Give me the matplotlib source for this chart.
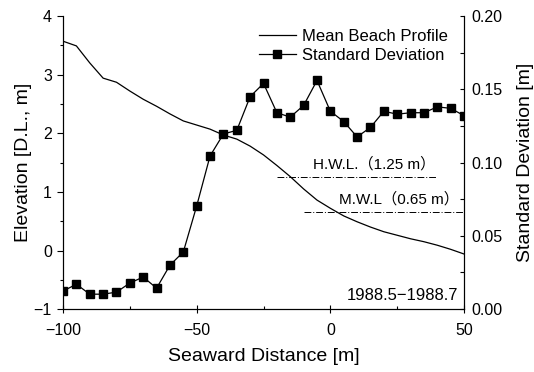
import matplotlib
matplotlib.use("Agg")
import matplotlib.pyplot as plt
from matplotlib.ticker import MultipleLocator
import numpy as np

plt.rcParams['font.family'] = ['Liberation Sans', 'Noto Sans CJK JP', 'DejaVu Sans']

# Seaward distance [m]
distance = np.arange(-100, 51, 5)

# Mean beach profile elevation [m]
profile = [3.57, 3.49, 3.20, 2.94, 2.87, 2.72, 2.58, 2.46, 2.33, 2.21, 2.14,
           2.07, 1.97, 1.90, 1.78, 1.63, 1.45, 1.26, 1.05, 0.86, 0.72,
           0.59, 0.49, 0.40, 0.32, 0.26, 0.20, 0.15, 0.09, 0.02, -0.06]

# Standard deviation [m]
std_dev = [0.0123, 0.0170, 0.0102, 0.0102, 0.0116, 0.0178, 0.0219, 0.0143,
           0.0300, 0.0390, 0.0704, 0.1045, 0.1195, 0.1220, 0.1450, 0.1540,
           0.1340, 0.1310, 0.1390, 0.1560, 0.1350, 0.1280, 0.1175, 0.1240,
           0.1350, 0.1330, 0.1340, 0.1340, 0.1380, 0.1370, 0.1320]

hwl = 1.25
mwl = 0.65

fig = plt.figure(figsize=(5.34, 3.72), dpi=100)
ax = fig.add_axes([0.118, 0.169, 0.751, 0.788])
ax2 = ax.twinx()

line1, = ax.plot(distance, profile, color='black', linewidth=0.9)
line2, = ax2.plot(distance, std_dev, color='black', linewidth=0.9,
                  marker='s', markersize=5.5)

# Water levels
dashdot = (0, (7, 2, 1, 2))
ax.plot([-20, 40], [hwl, hwl], color='black', linewidth=0.7, linestyle=dashdot)
ax.plot([-10, 50], [mwl, mwl], color='black', linewidth=0.7, linestyle=dashdot)
ax.text(16.5, hwl + 0.1, 'H.W.L.（1.25 m）', ha='center', va='bottom', fontsize=11)
ax.text(48, mwl + 0.1, 'M.W.L（0.65 m）', ha='right', va='bottom', fontsize=11)
ax.text(48, -0.9, '1988.5−1988.7', ha='right', va='bottom', fontsize=12)

ax.set_xlim(-100, 50)
ax.set_ylim(-1, 4)
ax2.set_ylim(0, 0.20)

for a in (ax, ax2):
    a.spines['top'].set_visible(False)

ax.xaxis.set_major_locator(MultipleLocator(50))
ax.xaxis.set_minor_locator(MultipleLocator(25))
ax.yaxis.set_major_locator(MultipleLocator(1))
ax.yaxis.set_minor_locator(MultipleLocator(0.5))
ax2.yaxis.set_major_locator(MultipleLocator(0.05))
ax2.yaxis.set_minor_locator(MultipleLocator(0.025))
ax2.yaxis.set_major_formatter(lambda v, p: f'{v:.2f}')
ax.xaxis.set_major_formatter(lambda v, p: f'{v:.0f}'.replace('-', '−'))
ax.yaxis.set_major_formatter(lambda v, p: f'{v:.0f}'.replace('-', '−'))

ax.tick_params(axis='y', which='major', direction='out', length=4.5, width=0.8, labelsize=11.5)
ax.tick_params(axis='y', which='minor', direction='out', length=2.5, width=0.8)
ax.tick_params(axis='x', which='major', direction='inout', length=6, width=0.8,
               labelsize=11.5, pad=7)
ax.tick_params(axis='x', which='minor', direction='in', length=2.5, width=0.8)
ax2.tick_params(axis='y', which='major', direction='in', length=3, width=0.8, labelsize=11.5, pad=5)
ax2.tick_params(axis='y', which='minor', direction='in', length=3, width=0.8)

ax.set_xlabel('Seaward Distance [m]', fontsize=14, labelpad=7)
ax.set_ylabel('Elevation [D.L., m]', fontsize=14, labelpad=1.5)
ax2.set_ylabel('Standard Deviation [m]', fontsize=14, labelpad=11)

ax2.legend([line1, line2], ['Mean Beach Profile', 'Standard Deviation'],
           loc='upper right', frameon=False, fontsize=12,
           handlelength=2.2, handletextpad=0.4, borderaxespad=0.3,
           labelspacing=0.25, bbox_to_anchor=(0.99, 0.995))

fig.savefig('out.png', dpi=100)
